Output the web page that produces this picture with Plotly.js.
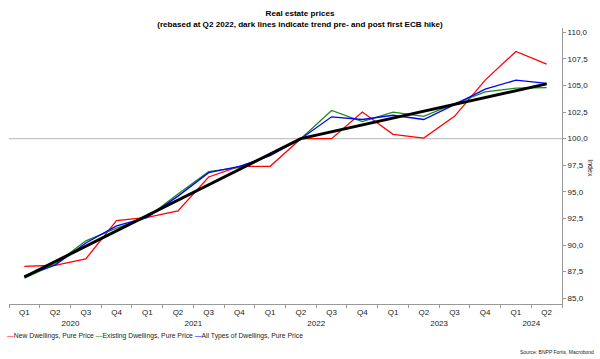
<!DOCTYPE html>
<html>
<head>
<meta charset="utf-8">
<script src="https://cdn.plot.ly/plotly-3.0.1.min.js"></script>
<style>html,body{margin:0;padding:0;background:#fff;}#chart{width:600px;height:359px;}</style>
</head>
<body>
<div id="chart"></div>
<script>
// Category labels
const years = ['2020','2020','2020','2020','2021','2021','2021','2021','2022','2022','2022','2022','2023','2023','2023','2023','2024','2024'];
const quarters = ['Q1','Q2','Q3','Q4','Q1','Q2','Q3','Q4','Q1','Q2','Q3','Q4','Q1','Q2','Q3','Q4','Q1','Q2'];

// Series values (index, Q2 2022 = 100)
const newDwellings =      [88.0, 88.1, 88.7, 92.3, 92.6, 93.2, 96.4, 97.4, 97.4, 100.0, 100.0, 102.5, 100.4, 100.05, 102.1, 105.5, 108.2, 107.0];
const existingDwellings = [86.9, 88.2, 90.4, 91.6, 92.6, 94.8, 96.9, 97.3, 98.5, 100.0, 102.65, 101.6, 102.5, 102.1, 103.3, 104.4, 104.75, 104.8];
const allDwellings =      [87.1, 88.1, 90.2, 91.8, 92.6, 94.6, 96.8, 97.4, 98.4, 100.0, 102.05, 101.8, 102.2, 101.8, 103.2, 104.65, 105.5, 105.2];

// Trend lines: pre- and post first ECB hike (Q2 2022)
const trendYears = ['2020','2022','2024'];
const trendQuarters = ['Q1','Q2','Q2'];
const trendValues = [87.0, 100.0, 105.15];

const seriesNames = ['New Dwellings, Pure Price','Existing Dwellings, Pure Price','All Types of Dwellings, Pure Price'];
const seriesColors = ['#ff0000','#1a8a1a','#0000ff'];

const FONT = 'Liberation Sans, Arial, sans-serif';
const xcat = [years, quarters];
const data = [newDwellings, existingDwellings, allDwellings].map((v, i) => ({
  type: 'scatter', mode: 'lines', x: xcat, y: v, name: seriesNames[i],
  line: {color: seriesColors[i], width: 1.3}, showlegend: false
}));
data.push({
  type: 'scatter', mode: 'lines', x: [trendYears, trendQuarters], y: trendValues,
  line: {color: '#000000', width: 3}, showlegend: false, name: 'Trend'
});

const legendText = seriesNames.map((n, i) =>
  `<span style="color:${seriesColors[i]}">—</span>${n}`).join(' ');

const layout = {
  width: 600, height: 359,
  margin: {l: 9, r: 38, t: 28, b: 55},
  paper_bgcolor: '#fff', plot_bgcolor: '#fff',
  separators: ',.',
  font: {family: FONT, size: 8, color: '#222'},
  title: {
    text: '<b>Real estate prices</b><br><b>(rebased at Q2 2022, dark lines indicate trend pre- and post first ECB hike)</b>',
    font: {family: FONT, size: 8.1, color: '#000'},
    x: 0.5, xref: 'container', y: 0.955, yref: 'container', yanchor: 'top'
  },
  xaxis: {
    type: 'multicategory',
    showline: true, linecolor: '#999', linewidth: 1,
    ticks: 'outside', tickson: 'boundaries', ticklen: 3, tickcolor: '#999',
    showdividers: false,
    showgrid: false, zeroline: false,
    tickfont: {family: FONT, size: 8, color: '#222'},
    range: [-0.5, 17.5]
  },
  yaxis: {
    side: 'right',
    range: [84.46, 110.4],
    tickvals: [85, 87.5, 90, 92.5, 95, 97.5, 100, 102.5, 105, 107.5, 110],
    tickformat: '.1f',
    showline: true, linecolor: '#999', linewidth: 1,
    ticks: 'outside', ticklen: 3, tickcolor: '#999',
    showgrid: false, zeroline: false,
    tickfont: {family: FONT, size: 8, color: '#222'}
  },
  shapes: [{
    type: 'line', xref: 'paper', x0: 0, x1: 1, yref: 'y', y0: 100, y1: 100,
    line: {color: '#c4c4c4', width: 1.3}, layer: 'below'
  }],
  annotations: [
    {text: 'Index', xref: 'paper', yref: 'paper', x: 1.06, y: 0.493, textangle: 90,
     showarrow: false, font: {family: FONT, size: 7, color: '#222'}},
    {text: legendText, xref: 'paper', yref: 'paper', x: -0.008, y: -0.116, xanchor: 'left', yanchor: 'middle',
     showarrow: false, font: {family: FONT, size: 6.8, color: '#222'}},
    {text: 'Source: BNPP Fortis, Macrobond', xref: 'paper', yref: 'paper', x: 1.0615, y: -0.174,
     xanchor: 'right', yanchor: 'middle', showarrow: false, font: {family: FONT, size: 5, color: '#222'}}
  ]
};

Plotly.newPlot('chart', data, layout, {displayModeBar: false, staticPlot: true});
</script>
</body>
</html>
